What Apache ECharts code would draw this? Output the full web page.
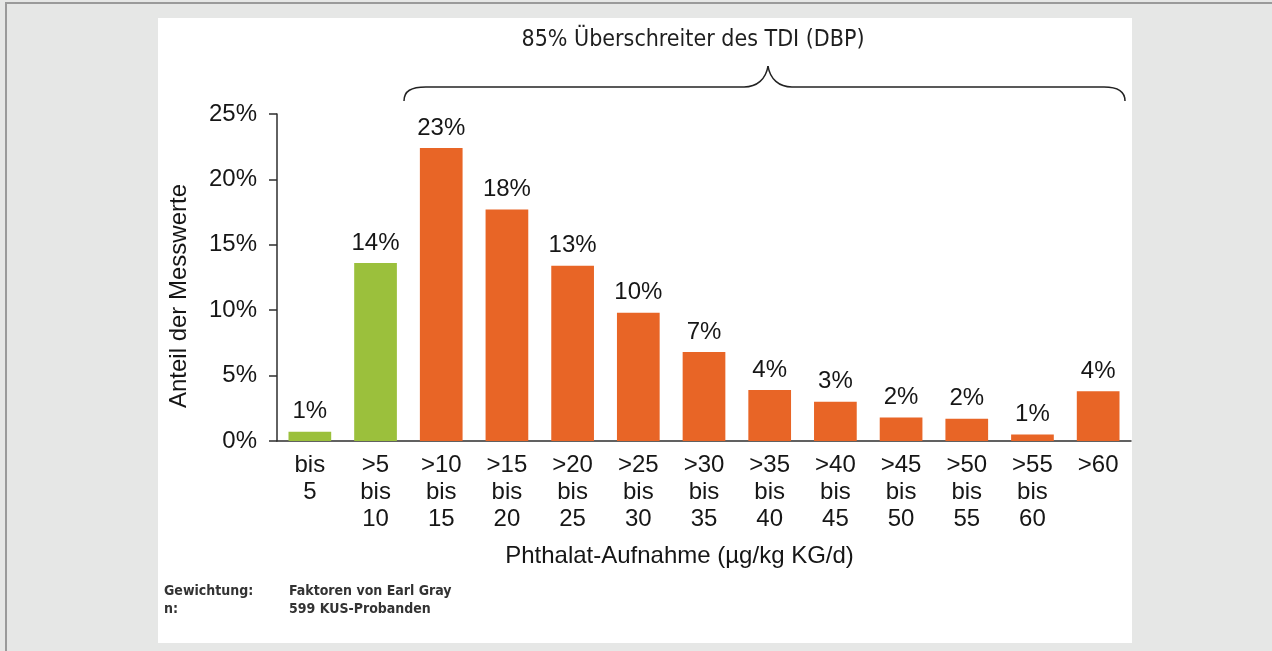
<!DOCTYPE html>
<html lang="de">
<head>
    <meta charset="UTF-8">
    <title>Phthalat-Aufnahme</title>
    <script src="https://cdn.jsdelivr.net/npm/echarts@6/dist/echarts.min.js"></script>
</head>
<body style="margin: 0; background: #e6e7e6;">
<div id="container" style="width: 1272px; height: 651px;"></div>
<script type="text/javascript">

    // Kategorien der Phthalat-Aufnahme (µg/kg KG/d)
    let categories = ['bis\n5', '>5\nbis\n10', '>10\nbis\n15', '>15\nbis\n20', '>20\nbis\n25',
        '>25\nbis\n30', '>30\nbis\n35', '>35\nbis\n40', '>40\nbis\n45', '>45\nbis\n50',
        '>50\nbis\n55', '>55\nbis\n60', '>60'];
    let shares = [0.7, 13.6, 22.4, 17.7, 13.4, 9.8, 6.8, 3.9, 3.0, 1.8, 1.7, 0.5, 3.8];
    // Beschriftung über den Balken
    let valueLabels = ['1%', '14%', '23%', '18%', '13%', '10%', '7%', '4%', '3%', '2%', '2%', '1%', '4%'];
    // unter TDI = grün, Überschreiter = orange
    let overTdi = [false, false, true, true, true, true, true, true, true, true, true, true, true];
    let yTicks = [0, 5, 10, 15, 20, 25];

    let green = '#9bc03c';
    let orange = '#e86526';
    let textColor = '#161616';
    let axisColor = '#2e2e2e';
    let font = 'Liberation Sans, Arial, sans-serif';
    let narrow = 'DejaVu Sans Condensed, Liberation Sans Narrow, sans-serif';

    let dom = document.getElementById('container');
    let myChart = echarts.init(dom);

    let braceStyle = {fill: null, stroke: '#222', lineWidth: 1.5};
    let noteStyle = function (txt) {
        return {text: txt, fontSize: 14, fontWeight: 600, fontFamily: narrow, fill: '#333', verticalAlign: 'middle'};
    };

    let option = {
        backgroundColor: '#e6e7e6',
        animation: false,
        grid: {left: 277, right: 141, top: 114, bottom: 210},
        xAxis: {
            type: 'category',
            data: categories,
            axisLine: {lineStyle: {color: axisColor, width: 1.5}},
            axisTick: {length: 6, lineStyle: {color: axisColor, width: 1.5}},
            axisLabel: {
                interval: 0, fontSize: 24, fontFamily: font, color: textColor,
                lineHeight: 27, margin: 11
            },
            name: 'Phthalat-Aufnahme (µg/kg KG/d)',
            nameLocation: 'middle',
            nameGap: 103,
            nameTextStyle: {fontSize: 24, fontFamily: font, color: textColor, padding: [0, 49, 0, 0]}
        },
        yAxis: {
            type: 'value',
            min: yTicks[0],
            max: yTicks[yTicks.length - 1],
            interval: 5,
            splitLine: {show: false},
            axisLine: {show: true, lineStyle: {color: axisColor, width: 1.5}},
            axisTick: {show: true, length: 8, lineStyle: {color: axisColor, width: 1.5}},
            axisLabel: {
                formatter: '{value}%', fontSize: 24, fontFamily: font, color: textColor, margin: 20
            },
            name: 'Anteil der Messwerte',
            nameLocation: 'middle',
            nameGap: 86,
            nameTextStyle: {fontSize: 24, fontFamily: font, color: textColor, padding: [0, 37, 0, 0]}
        },
        series: [{
            type: 'bar',
            barCategoryGap: '35%',
            data: shares.map(function (v, i) {
                return {value: v, itemStyle: {color: overTdi[i] ? orange : green}};
            }),
            label: {
                show: true,
                position: 'top',
                distance: 8,
                fontSize: 24,
                fontFamily: font,
                color: textColor,
                formatter: function (p) {
                    return valueLabels[p.dataIndex];
                }
            }
        }],
        graphic: [
            // Rahmen
            {type: 'rect', z: -10, shape: {x: 5, y: 2, width: 1267, height: 2}, style: {fill: '#9a9a9a'}},
            {type: 'rect', z: -10, shape: {x: 5, y: 2, width: 2, height: 649}, style: {fill: '#9a9a9a'}},
            {type: 'rect', z: -10, shape: {x: 158, y: 18, width: 974, height: 625}, style: {fill: '#ffffff'}},
            // Klammer über den Überschreitern
            {type: 'bezierCurve', z: 10, style: braceStyle,
                shape: {x1: 404, y1: 101, cpx1: 404, cpy1: 91, cpx2: 411, cpy2: 87, x2: 426, y2: 87}},
            {type: 'line', z: 10, style: braceStyle, shape: {x1: 426, y1: 87, x2: 744, y2: 87}},
            {type: 'bezierCurve', z: 10, style: braceStyle,
                shape: {x1: 744, y1: 87, cpx1: 757, cpy1: 87, cpx2: 766, cpy2: 79, x2: 768, y2: 66}},
            {type: 'bezierCurve', z: 10, style: braceStyle,
                shape: {x1: 768, y1: 66, cpx1: 770, cpy1: 79, cpx2: 779, cpy2: 87, x2: 792, y2: 87}},
            {type: 'line', z: 10, style: braceStyle, shape: {x1: 792, y1: 87, x2: 1104, y2: 87}},
            {type: 'bezierCurve', z: 10, style: braceStyle,
                shape: {x1: 1104, y1: 87, cpx1: 1118, cpy1: 87, cpx2: 1125, cpy2: 91, x2: 1125, y2: 101}},
            {
                type: 'text', z: 10, x: 693, y: 40,
                style: {
                    text: '85% Überschreiter des TDI (DBP)', fontSize: 23, fontFamily: narrow,
                    fill: '#1e1e1e', align: 'center', verticalAlign: 'middle'
                }
            },
            // Fußnote
            {type: 'text', z: 10, x: 164, y: 591, style: noteStyle('Gewichtung:')},
            {type: 'text', z: 10, x: 164, y: 609, style: noteStyle('n:')},
            {type: 'text', z: 10, x: 289, y: 591, style: noteStyle('Faktoren von Earl Gray')},
            {type: 'text', z: 10, x: 289, y: 609, style: noteStyle('599 KUS-Probanden')}
        ]
    };

    myChart.setOption(option, true);

</script>
</body>
</html>
